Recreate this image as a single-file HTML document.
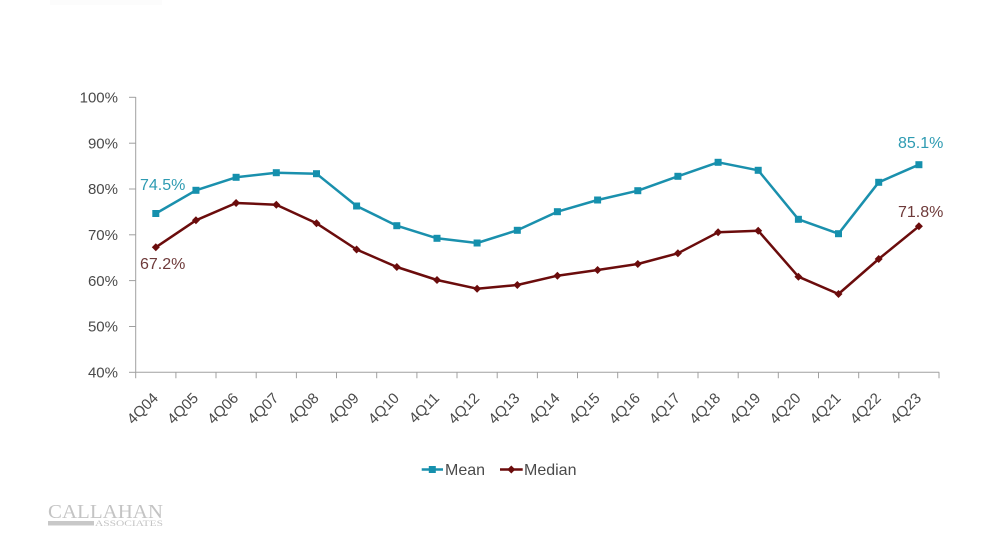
<!DOCTYPE html>
<html>
<head>
<meta charset="utf-8">
<style>
html,body{margin:0;padding:0;background:#fff;}
body{width:1000px;height:543px;overflow:hidden;}
svg{display:block;}
text{font-family:"Liberation Sans",sans-serif;}
</style>
</head>
<body>
<svg width="1000" height="543" viewBox="0 0 1000 543" xmlns="http://www.w3.org/2000/svg">
<rect width="1000" height="543" fill="#fff"/>
<!-- faint top mark -->
<rect x="50" y="0" width="112" height="5" fill="#fcfcfc"/>

<!-- axes -->
<g stroke="#a0a0a0" stroke-width="1" fill="none">
  <line x1="135.7" y1="97" x2="135.7" y2="372.3"/>
  <line x1="135.7" y1="372.3" x2="939.2" y2="372.3"/>
  <line x1="129" y1="97.3" x2="135.7" y2="97.3"/>
  <line x1="129" y1="143.2" x2="135.7" y2="143.2"/>
  <line x1="129" y1="189" x2="135.7" y2="189"/>
  <line x1="129" y1="234.8" x2="135.7" y2="234.8"/>
  <line x1="129" y1="280.6" x2="135.7" y2="280.6"/>
  <line x1="129" y1="326.5" x2="135.7" y2="326.5"/>
  <line x1="129" y1="372.3" x2="135.7" y2="372.3"/>
  <path d="M135.7 372.3v6 M175.9 372.3v6 M216 372.3v6 M256.2 372.3v6 M296.4 372.3v6 M336.5 372.3v6 M376.7 372.3v6 M416.9 372.3v6 M457 372.3v6 M497.2 372.3v6 M537.4 372.3v6 M577.5 372.3v6 M617.7 372.3v6 M657.9 372.3v6 M698 372.3v6 M738.2 372.3v6 M778.3 372.3v6 M818.5 372.3v6 M858.7 372.3v6 M898.8 372.3v6 M939 372.3v6"/>
</g>

<!-- y labels -->
<g font-size="15" fill="#4a4a4a" text-anchor="end">
  <text x="118" y="102.5">100%</text>
  <text x="118" y="148.3">90%</text>
  <text x="118" y="194.1">80%</text>
  <text x="118" y="240">70%</text>
  <text x="118" y="285.8">60%</text>
  <text x="118" y="331.6">50%</text>
  <text x="118" y="377.4">40%</text>
</g>

<!-- x labels -->
<g font-size="15" fill="#4a4a4a" text-anchor="end">
  <text transform="translate(159,399) rotate(-45)">4Q04</text>
  <text transform="translate(199.2,399) rotate(-45)">4Q05</text>
  <text transform="translate(239.3,399) rotate(-45)">4Q06</text>
  <text transform="translate(279.5,399) rotate(-45)">4Q07</text>
  <text transform="translate(319.7,399) rotate(-45)">4Q08</text>
  <text transform="translate(359.8,399) rotate(-45)">4Q09</text>
  <text transform="translate(400,399) rotate(-45)">4Q10</text>
  <text transform="translate(440.2,399) rotate(-45)">4Q11</text>
  <text transform="translate(480.3,399) rotate(-45)">4Q12</text>
  <text transform="translate(520.5,399) rotate(-45)">4Q13</text>
  <text transform="translate(560.6,399) rotate(-45)">4Q14</text>
  <text transform="translate(600.8,399) rotate(-45)">4Q15</text>
  <text transform="translate(641,399) rotate(-45)">4Q16</text>
  <text transform="translate(681.1,399) rotate(-45)">4Q17</text>
  <text transform="translate(721.3,399) rotate(-45)">4Q18</text>
  <text transform="translate(761.4,399) rotate(-45)">4Q19</text>
  <text transform="translate(801.6,399) rotate(-45)">4Q20</text>
  <text transform="translate(841.7,399) rotate(-45)">4Q21</text>
  <text transform="translate(881.9,399) rotate(-45)">4Q22</text>
  <text transform="translate(922.1,399) rotate(-45)">4Q23</text>
</g>

<!-- Mean series -->
<polyline fill="none" stroke="#1a90ad" stroke-width="2.5" stroke-linejoin="round"
 points="155.8,213.5 195.95,190.3 236.1,177.3 276.3,172.7 316.5,173.7 356.6,206 396.8,225.7 437,238.3 477.1,243 517.3,230.3 557.4,211.7 597.6,200 637.8,190.7 677.9,176.3 718.1,162.3 758.2,170.3 798.4,219.3 838.5,233.7 878.7,182.3 918.9,164.7"/>
<g fill="#1590ad">
  <rect x="152.3" y="210" width="7" height="7"/>
  <rect x="192.45" y="186.8" width="7" height="7"/>
  <rect x="232.6" y="173.8" width="7" height="7"/>
  <rect x="272.8" y="169.2" width="7" height="7"/>
  <rect x="313" y="170.2" width="7" height="7"/>
  <rect x="353.1" y="202.5" width="7" height="7"/>
  <rect x="393.3" y="222.2" width="7" height="7"/>
  <rect x="433.5" y="234.8" width="7" height="7"/>
  <rect x="473.6" y="239.5" width="7" height="7"/>
  <rect x="513.8" y="226.8" width="7" height="7"/>
  <rect x="553.9" y="208.2" width="7" height="7"/>
  <rect x="594.1" y="196.5" width="7" height="7"/>
  <rect x="634.3" y="187.2" width="7" height="7"/>
  <rect x="674.4" y="172.8" width="7" height="7"/>
  <rect x="714.6" y="158.8" width="7" height="7"/>
  <rect x="754.7" y="166.8" width="7" height="7"/>
  <rect x="794.9" y="215.8" width="7" height="7"/>
  <rect x="835" y="230.2" width="7" height="7"/>
  <rect x="875.2" y="178.8" width="7" height="7"/>
  <rect x="915.4" y="161.2" width="7" height="7"/>
</g>

<!-- Median series -->
<polyline fill="none" stroke="#6b0c0c" stroke-width="2.5" stroke-linejoin="round"
 points="155.8,247.3 195.95,220.3 236.1,203 276.3,204.7 316.5,223.3 356.6,249.5 396.8,267 437,280 477.1,288.7 517.3,285 557.4,275.7 597.6,270 637.8,264 677.9,253.3 718.1,232.3 758.2,230.7 798.4,276.7 838.5,294 878.7,259 918.9,226.3"/>
<g fill="#6b0c0c">
  <path d="M155.8 243.3l4 4-4 4-4-4z"/>
  <path d="M195.95 216.3l4 4-4 4-4-4z"/>
  <path d="M236.1 199l4 4-4 4-4-4z"/>
  <path d="M276.3 200.7l4 4-4 4-4-4z"/>
  <path d="M316.5 219.3l4 4-4 4-4-4z"/>
  <path d="M356.6 245.5l4 4-4 4-4-4z"/>
  <path d="M396.8 263l4 4-4 4-4-4z"/>
  <path d="M437 276l4 4-4 4-4-4z"/>
  <path d="M477.1 284.7l4 4-4 4-4-4z"/>
  <path d="M517.3 281l4 4-4 4-4-4z"/>
  <path d="M557.4 271.7l4 4-4 4-4-4z"/>
  <path d="M597.6 266l4 4-4 4-4-4z"/>
  <path d="M637.8 260l4 4-4 4-4-4z"/>
  <path d="M677.9 249.3l4 4-4 4-4-4z"/>
  <path d="M718.1 228.3l4 4-4 4-4-4z"/>
  <path d="M758.2 226.7l4 4-4 4-4-4z"/>
  <path d="M798.4 272.7l4 4-4 4-4-4z"/>
  <path d="M838.5 290l4 4-4 4-4-4z"/>
  <path d="M878.7 255l4 4-4 4-4-4z"/>
  <path d="M918.9 222.3l4 4-4 4-4-4z"/>
</g>

<!-- data labels -->
<g font-size="16">
  <text x="140" y="190" fill="#2e9bb2">74.5%</text>
  <text x="140" y="269" fill="#6e3a3a">67.2%</text>
  <text x="898" y="148" fill="#2e9bb2">85.1%</text>
  <text x="898" y="217" fill="#6e3a3a">71.8%</text>
</g>

<!-- legend -->
<line x1="421.7" y1="469.5" x2="443" y2="469.5" stroke="#1a90ad" stroke-width="2.5"/>
<rect x="428.8" y="466" width="7" height="7" fill="#1590ad"/>
<text x="445" y="475" font-size="16" fill="#4a4a4a">Mean</text>
<line x1="500" y1="469.5" x2="522.7" y2="469.5" stroke="#6b0c0c" stroke-width="2.5"/>
<path d="M511.3 465.5l4 4-4 4-4-4z" fill="#6b0c0c"/>
<text x="524" y="475" font-size="16" fill="#4a4a4a">Median</text>

<!-- logo -->
<text x="48" y="518" style="font-family:'Liberation Serif',serif;" font-size="20" fill="#c4c4c4" textLength="115" lengthAdjust="spacingAndGlyphs">CALLAHAN</text>
<rect x="48" y="521" width="46" height="4.5" fill="#c8c8c8"/>
<text x="95" y="526" style="font-family:'Liberation Serif',serif;" font-size="8" fill="#c4c4c4" textLength="68" lengthAdjust="spacingAndGlyphs">ASSOCIATES</text>
</svg>
</body>
</html>
